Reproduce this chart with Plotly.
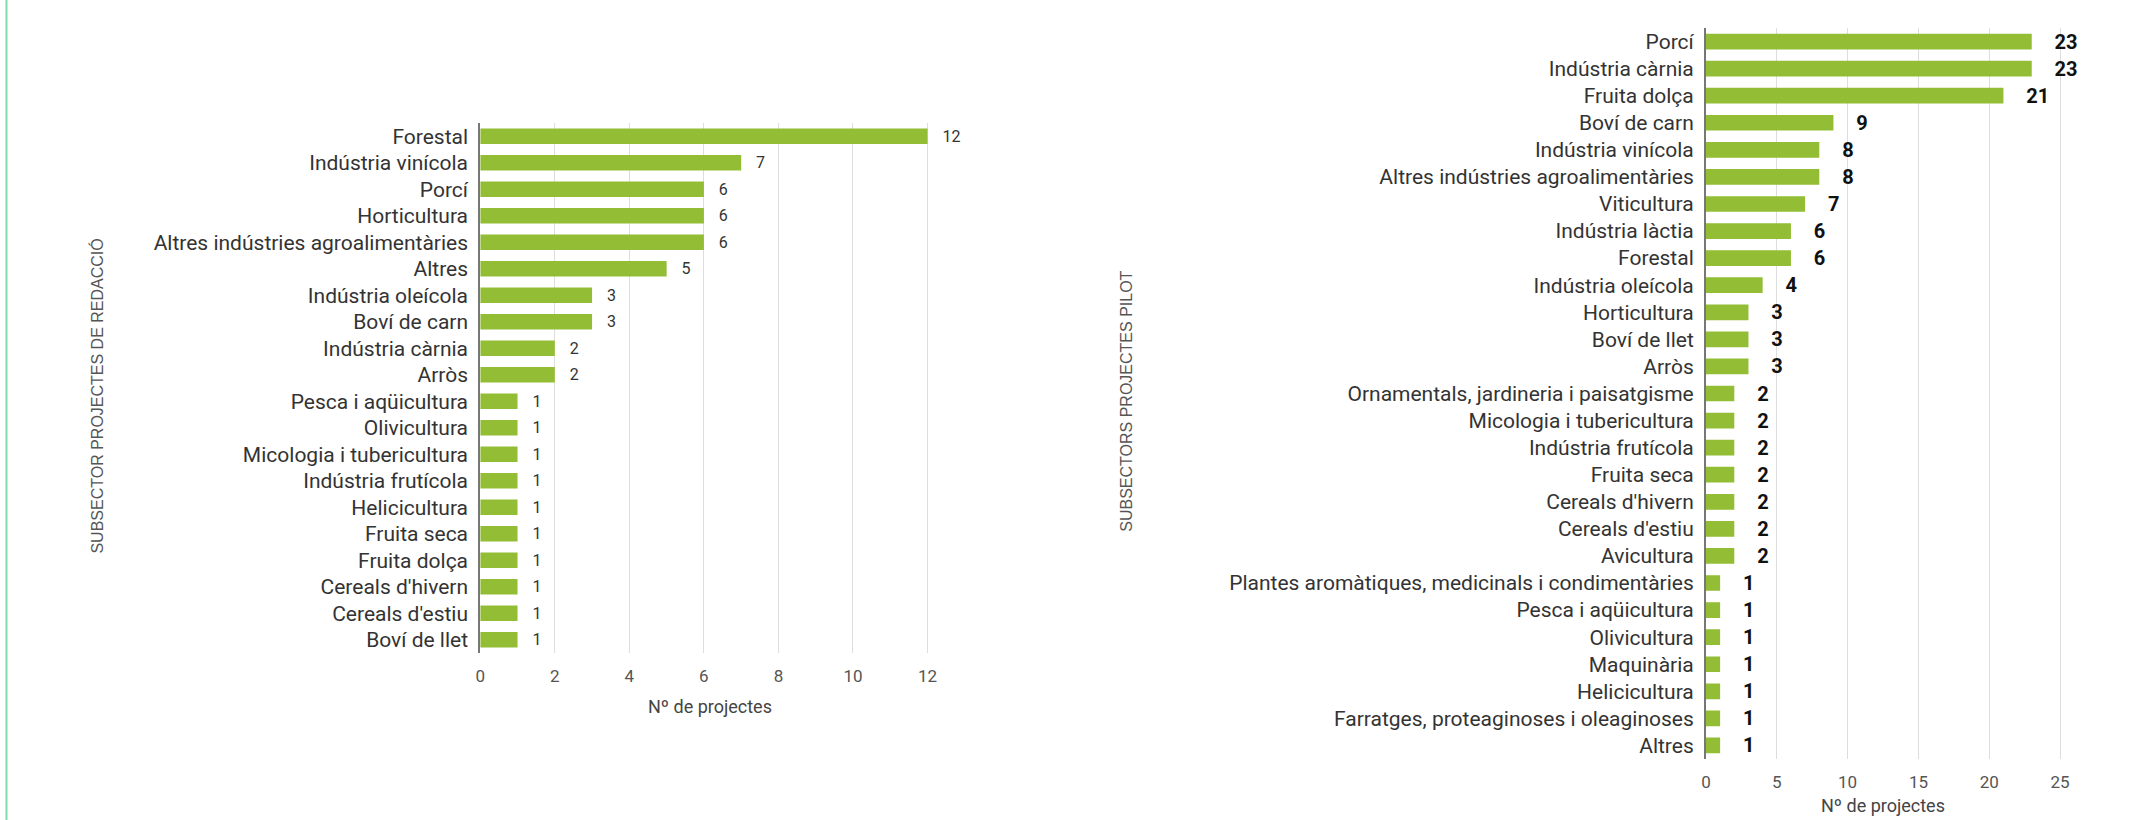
import plotly.graph_objects as go

W, H = 2129, 820

# left chart: projectes de redacció
redaccio_cat = ["Forestal", "Indústria vinícola", "Porcí", "Horticultura",
                "Altres indústries agroalimentàries", "Altres", "Indústria oleícola",
                "Boví de carn", "Indústria càrnia", "Arròs", "Pesca i aqüicultura",
                "Olivicultura", "Micologia i tubericultura", "Indústria frutícola",
                "Helicicultura", "Fruita seca", "Fruita dolça", "Cereals d'hivern",
                "Cereals d'estiu", "Boví de llet"]
redaccio_val = [12, 7, 6, 6, 6, 5, 3, 3, 2, 2, 1, 1, 1, 1, 1, 1, 1, 1, 1, 1]

# right chart: projectes pilot
pilot_cat = ["Porcí", "Indústria càrnia", "Fruita dolça", "Boví de carn",
             "Indústria vinícola", "Altres indústries agroalimentàries", "Viticultura",
             "Indústria làctia", "Forestal", "Indústria oleícola", "Horticultura",
             "Boví de llet", "Arròs", "Ornamentals, jardineria i paisatgisme",
             "Micologia i tubericultura", "Indústria frutícola", "Fruita seca",
             "Cereals d'hivern", "Cereals d'estiu", "Avicultura",
             "Plantes aromàtiques, medicinals i condimentàries", "Pesca i aqüicultura",
             "Olivicultura", "Maquinària", "Helicicultura",
             "Farratges, proteaginoses i oleaginoses", "Altres"]
pilot_val = [23, 23, 21, 9, 8, 8, 7, 6, 6, 4, 3, 3, 3, 2, 2, 2, 2, 2, 2, 2,
             1, 1, 1, 1, 1, 1, 1]

GREEN = "#92bd34"
FONT = "Roboto"


def px(x):
    return x / W


def py(y):
    return 1 - y / H


fig = go.Figure()
fig.add_trace(go.Bar(
    x=redaccio_val, y=redaccio_cat, orientation="h",
    marker=dict(color=GREEN, line=dict(width=0)),
    text=redaccio_val, texttemplate="\u00a0\u00a0\u00a0%{text}",
    textposition="outside", cliponaxis=False, constraintext="none",
    textfont=dict(family=FONT, size=16, color="#333333"),
    xaxis="x", yaxis="y", showlegend=False,
))
fig.add_trace(go.Bar(
    x=pilot_val, y=pilot_cat, orientation="h",
    marker=dict(color=GREEN, line=dict(width=0)),
    text=pilot_val, texttemplate="\u00a0\u00a0\u00a0\u00a0%{text}",
    textposition="outside", cliponaxis=False, constraintext="none",
    textfont=dict(family=FONT, size=20, color="#111111", weight="bold"),
    xaxis="x2", yaxis="y2", showlegend=False,
))

xcommon = dict(showgrid=True, gridcolor="#dddddd", gridwidth=1, zeroline=False,
               showline=False, ticks="outside", ticklen=8, tickcolor="rgba(0,0,0,0)",
               tickfont=dict(family=FONT, size=17, color="#555555"))
ycommon = dict(autorange="reversed", showgrid=False, zeroline=False,
               showline=True, linecolor="#777777", linewidth=2,
               ticks="outside", ticklen=6, tickcolor="rgba(0,0,0,0)",
               tickfont=dict(family=FONT, size=21, color="#333333"))

fig.update_layout(
    width=W, height=H,
    margin=dict(l=0, r=0, t=0, b=0),
    paper_bgcolor="white", plot_bgcolor="white",
    bargap=0.42,
    xaxis=dict(domain=[px(477.5), px(477.5 + 12.3 * 37.45)], range=[0, 12.3],
               dtick=2, anchor="y", **xcommon),
    yaxis=dict(domain=[py(653), py(123)], anchor="x", **ycommon),
    xaxis2=dict(domain=[px(1709), px(1709 + 25.3 * 14.23)], range=[0, 25.3],
                dtick=5, anchor="y2", **xcommon),
    yaxis2=dict(domain=[py(759), py(28)], anchor="x2", **ycommon),
)

titles = [
    dict(text="Nº de projectes", x=px(708), y=py(706), textangle=0),
    dict(text="Nº de projectes", x=px(1887), y=py(805), textangle=0),
]
for t in titles:
    fig.add_annotation(xref="paper", yref="paper", showarrow=False,
                       xanchor="center", yanchor="middle",
                       font=dict(family=FONT, size=18, color="#444444"), **t)

for txt, x, y in [("SUBSECTOR PROJECTES DE REDACCIÓ", 92, 396),
                  ("SUBSECTORS PROJECTES PILOT", 1126, 401)]:
    fig.add_annotation(xref="paper", yref="paper", showarrow=False,
                       x=px(x), y=py(y), xanchor="center", yanchor="middle",
                       textangle=-90, text=txt,
                       font=dict(family="Liberation Sans", size=16, color="#555555"))

# thin green frame line at the left edge
fig.add_shape(type="line", xref="paper", yref="paper", x0=px(1.5), x1=px(1.5), y0=0, y1=1,
              line=dict(color="#7fdca8", width=2))

fig.write_html("out.html", config={"displayModeBar": False},
               post_script="document.body.style.margin='0';document.body.style.overflow='hidden';")
